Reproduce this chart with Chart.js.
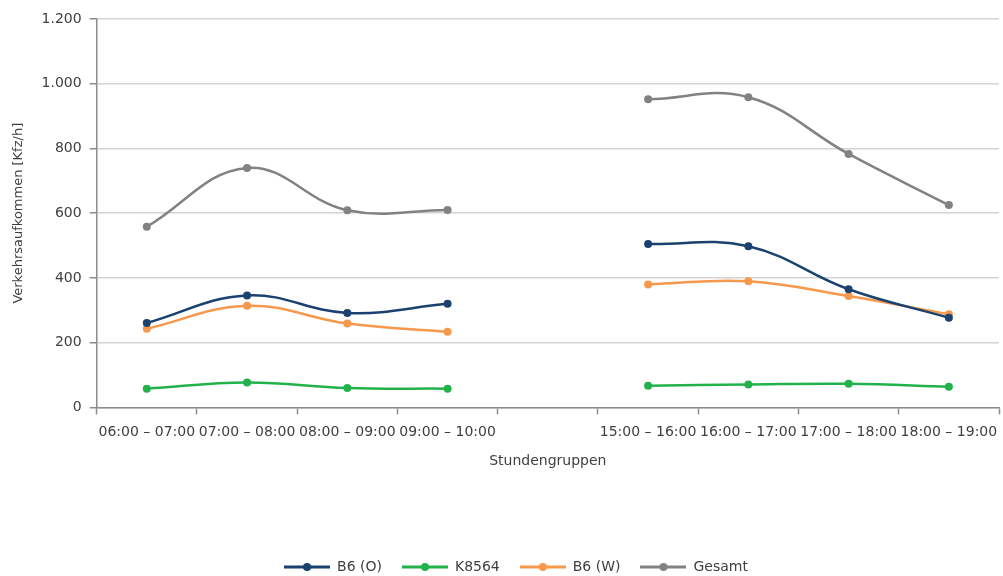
<!DOCTYPE html>
<html>
<head>
<meta charset="utf-8">
<script src="https://cdn.jsdelivr.net/npm/chart.js@4"></script>
<style>
  body { margin: 0; background: #fff; }
  #wrap { width: 1003px; height: 576px; }
</style>
</head>
<body>
<div id="wrap"><canvas id="verkehrChart"></canvas></div>
<script>
const stundengruppen = ["06:00 – 07:00", "07:00 – 08:00", "08:00 – 09:00", "09:00 – 10:00", "",
    "15:00 – 16:00", "16:00 – 17:00", "17:00 – 18:00", "18:00 – 19:00"];
const b6Ost = [261, 346, 292, 320, null, 505, 498, 365, 277];
const k8564 = [58, 77, 60, 58, null, 67, 71, 73, 64];
const b6West = [243, 314, 259, 234, null, 380, 390, 344, 288];
const gesamt = [558, 740, 609, 610, null, 952, 958, 783, 625];
const yTicks = [0, 200, 400, 600, 800, 1000, 1200];

const FONT = "'DejaVu Sans', sans-serif";
const TEXT = '#404040';

function fmt(v) {
    return String(v).replace(/\B(?=(\d{3})+(?!\d))/g, '.');
}

// legend icon: short line with a dot in the middle
function legendIcon(color) {
    const c = document.createElement('canvas');
    c.width = 46;
    c.height = 10;
    const g = c.getContext('2d');
    g.strokeStyle = color;
    g.lineWidth = 3;
    g.beginPath();
    g.moveTo(0, 5);
    g.lineTo(46, 5);
    g.stroke();
    g.fillStyle = color;
    g.beginPath();
    g.arc(23, 5, 4, 0, Math.PI * 2);
    g.fill();
    return c;
}

function serie(label, data, color) {
    return {
        label: label,
        data: data,
        borderColor: color,
        backgroundColor: color,
        borderWidth: 2.5,
        pointRadius: 4,
        pointHoverRadius: 4,
        pointBorderWidth: 0,
        tension: 0.4,
        spanGaps: false
    };
}

const ctx = document.getElementById('verkehrChart').getContext('2d');
new Chart(ctx, {
    type: 'line',
    data: {
        labels: stundengruppen,
        datasets: [
            serie('B6 (O)', b6Ost, '#1a416f'),
            serie('K8564', k8564, '#22b24c'),
            serie('B6 (W)', b6West, '#f7994d'),
            serie('Gesamt', gesamt, '#828282')
        ]
    },
    options: {
        responsive: true,
        maintainAspectRatio: false,
        animation: false,
        layout: {
            padding: { top: 19, left: 32, right: 3, bottom: -8 }
        },
        plugins: {
            legend: {
                position: 'bottom',
                labels: {
                    usePointStyle: true,
                    pointStyleWidth: 46,
                    padding: 20,
                    color: TEXT,
                    font: { family: FONT, size: 14 },
                    generateLabels: function (chart) {
                        const items = Chart.defaults.plugins.legend.labels.generateLabels(chart);
                        items.forEach(function (it, i) {
                            it.pointStyle = legendIcon(chart.data.datasets[i].borderColor);
                        });
                        return items;
                    }
                }
            },
            tooltip: { enabled: false }
        },
        scales: {
            x: {
                offset: true,
                afterFit: function (axis) {
                    axis.paddingLeft = 0;
                    axis.paddingRight = 0;
                },
                grid: {
                    display: true,
                    drawOnChartArea: false,
                    drawTicks: true,
                    tickLength: 7,
                    tickColor: '#8c8c8c',
                    tickWidth: 1.5,
                    offset: true
                },
                border: { color: '#8c8c8c', width: 1.5 },
                ticks: {
                    autoSkip: false,
                    maxRotation: 0,
                    minRotation: 0,
                    padding: 10,
                    color: TEXT,
                    font: { family: FONT, size: 14 }
                },
                title: {
                    display: true,
                    text: 'Stundengruppen',
                    color: TEXT,
                    font: { family: FONT, size: 14 },
                    padding: { top: 2, bottom: 70 }
                }
            },
            y: {
                min: 0,
                max: 1200,
                afterBuildTicks: function (axis) {
                    axis.ticks = yTicks.map(function (v) { return { value: v }; });
                },
                grid: {
                    color: '#d4d4d4',
                    lineWidth: 1.5,
                    tickLength: 7,
                    tickColor: '#8c8c8c'
                },
                border: { color: '#8c8c8c', width: 1.5 },
                ticks: {
                    padding: 8,
                    color: TEXT,
                    font: { family: FONT, size: 14 },
                    callback: function (v) { return fmt(v); }
                },
                title: {
                    display: true,
                    text: 'Verkehrsaufkommen [Kfz/h]',
                    color: TEXT,
                    font: { family: FONT, size: 13 },
                    padding: { top: -21, bottom: 7 }
                }
            }
        }
    }
});
</script>
</body>
</html>
